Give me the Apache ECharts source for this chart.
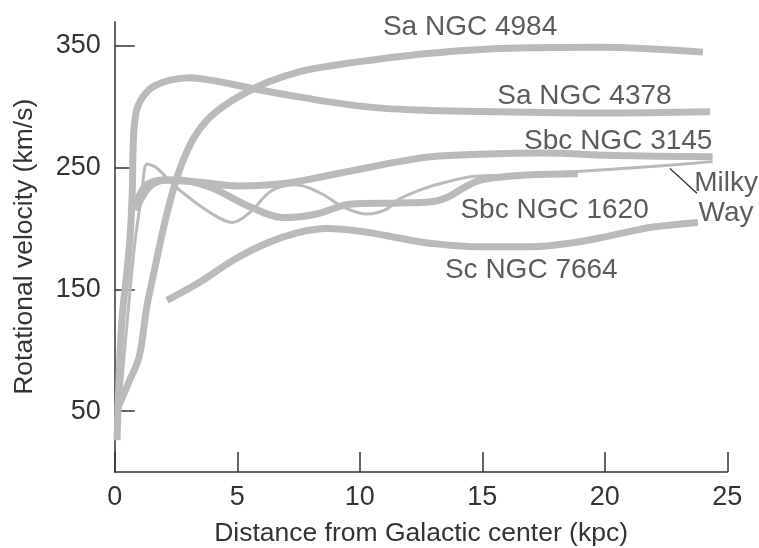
<!DOCTYPE html>
<html>
<head>
<meta charset="utf-8">
<script src="https://cdn.jsdelivr.net/npm/echarts@6/dist/echarts.min.js"></script>
<style>
html,body{margin:0;padding:0;background:#fff;}
#c{width:759px;height:548px;}
</style>
</head>
<body>
<div id="c"></div>
<script>
// Rotation curves: [distance kpc, velocity km/s]
const ngc4984 = [[0.09,51],[0.6,75],[1.0,95],[1.3,135],[1.64,168],[1.97,199],[2.25,222],[2.54,242],[2.87,260],[3.27,276],[3.76,289],[4.4,300],[5.11,309],[6.21,320],[7.56,329],[8.9,334],[10.29,338],[12.86,344],[15.72,348],[19.8,349],[24.0,345]];
const ngc4378 = [[0.09,26],[0.17,75],[0.29,125],[0.5,166],[0.64,198],[0.72,235],[0.74,262],[0.8,286],[0.95,301],[1.25,311],[1.6,317],[2.25,322],[3.07,324],[3.89,322],[4.7,319],[5.64,315],[7.56,308],[10.29,300],[12.86,297],[15.7,296],[19.8,295],[24.3,296]];
const ngc3145 = [[0.83,219],[1.3,236],[2.05,240],[3.5,238],[5.1,235],[6.9,237],[8.8,244],[10.3,250],[11.6,255],[12.9,259],[14.9,261],[17.4,262],[20.6,260],[24.4,259]];
const ngc1620 = [[0.85,215],[1.4,234],[2.1,240],[2.6,240],[3.9,234],[5.5,218],[6.9,209],[8.25,212],[9.6,220],[11.6,221],[12.9,222],[13.6,226],[14.2,233],[14.8,239],[15.6,242],[16.8,244],[18.9,245]];
const milkyWay = [[0.1,30],[0.4,100],[0.8,185],[1.1,228],[1.32,253],[1.7,250],[2.2,240],[2.8,229],[3.9,213],[4.8,205],[5.5,213],[6.4,231],[7.4,236],[8.4,229],[9.3,218],[10.3,212],[11.1,216],[11.6,224],[12.5,232],[13.5,238],[14.7,243],[16.5,244],[19.0,247],[21.9,251],[24.4,255]];
const ngc7664 = [[2.13,141],[3.48,156],[4.83,174],[6.2,188],[7.56,197],[8.66,200],[10.29,197],[11.64,192],[12.86,188],[14.9,185],[16.95,185],[18.6,188],[20.2,194],[21.9,201],[23.8,205]];

const xTicks = [0,5,10,15,20,25];
const yTicks = [50,150,250,350];

const curveNames = ['Sa NGC 4984','Sa NGC 4378','Sbc NGC 3145','Sbc NGC 1620','Milky\nWay','Sc NGC 7664'];

// annotation anchors (data units)
const labelAnchors = [[14.5,365.5],[19.17,309],[20.55,271.5],[17.95,215],[24.95,225],[17.0,166]];
const leader = [[22.66,249.4],[23.76,229]];

const chart = echarts.init(document.getElementById('c'), null, {renderer:'canvas'});
const font = 'Liberation Sans, Arial, Helvetica, sans-serif';
const txt = '#333';
const gray = '#bababa';

function curve(name, data, width){
  return {
    type:'line', name:name, data:data, showSymbol:false, symbol:'none',
    smooth:0.35, silent:true,
    lineStyle:{color:gray, width:width},
    z:2
  };
}

chart.setOption({
  animation:false,
  backgroundColor:'#fff',
  grid:{left:114.8, right:31.7, top:21.7, bottom:76.1, containLabel:false, outerBoundsMode:'none'},
  xAxis:{
    type:'value', min:0, max:25, interval:5,
    name:'Distance from Galactic center (kpc)', nameLocation:'middle', nameGap:48,
    nameTextStyle:{fontFamily:font, fontSize:26.5, color:txt},
    axisLine:{lineStyle:{color:txt, width:1.5}},
    axisTick:{inside:true, length:20, lineStyle:{color:txt, width:1.5}},
    axisLabel:{fontFamily:font, fontSize:27, color:txt, margin:12},
    splitLine:{show:false}
  },
  yAxis:{
    type:'value', min:0, max:370,
    name:'Rotational velocity (km/s)', nameLocation:'middle', nameGap:77,
    nameTextStyle:{fontFamily:font, fontSize:26.5, color:txt},
    axisLine:{show:true, lineStyle:{color:txt, width:1.5}},
    axisTick:{show:true, inside:true, length:20, customValues:yTicks, lineStyle:{color:txt, width:1.5}},
    axisLabel:{fontFamily:font, fontSize:27, color:txt, margin:14, customValues:yTicks},
    splitLine:{show:false}
  },
  series:[
    curve(curveNames[0], ngc4984, 7),
    curve(curveNames[1], ngc4378, 7),
    curve(curveNames[2], ngc3145, 7),
    curve(curveNames[3], ngc1620, 7),
    curve(curveNames[4], milkyWay, 3),
    curve(curveNames[5], ngc7664, 7),
    {
      type:'line', data:leader, showSymbol:false, symbol:'none', silent:true,
      lineStyle:{color:txt, width:1.3}, z:3
    },
    {
      type:'scatter', silent:true, symbolSize:0, z:4,
      data: labelAnchors.map((p,i)=>({value:p, name:curveNames[i]})),
      label:{show:true, position:'inside', formatter:p=>p.name,
        fontFamily:font, fontSize:28, color:txt, lineHeight:30, align:'center', verticalAlign:'middle'}
    }
  ]
});
</script>
</body>
</html>
